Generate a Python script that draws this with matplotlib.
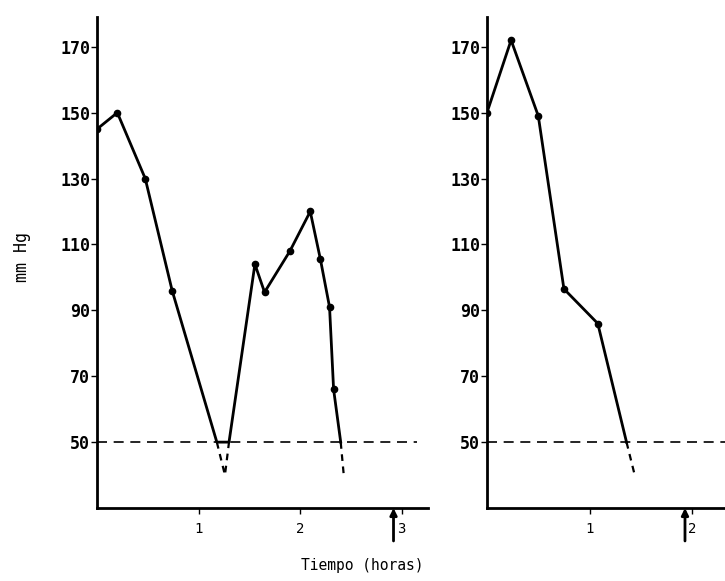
#!/usr/bin/env python3
"""Presion arterial (mm Hg) frente al tiempo (horas), dos casos lado a lado."""
import matplotlib
matplotlib.use("Agg")
import matplotlib.pyplot as plt  # noqa: E402

# caso 1 (panel izquierdo)
left_t = [0.0, 0.2, 0.475, 0.74, 1.18, 1.30, 1.555, 1.65, 1.9, 2.1, 2.2, 2.29, 2.33, 2.40]
left_p = [145, 150, 130, 96, 50, 50, 104, 95.5, 108, 120, 105.5, 91, 66, 50]
left_marked = [0, 1, 2, 3, 6, 7, 8, 9, 10, 11, 12]
left_dash_t = [[1.18, 1.26, 1.30], [2.40, 2.43]]
left_dash_p = [[50, 40, 50], [50, 40]]
left_arrow_t = 2.92
left_xticks = [1, 2, 3]

# caso 2 (panel derecho)
right_t = [0.0, 0.235, 0.5, 0.75, 1.08, 1.36]
right_p = [150, 172, 149, 96.5, 86, 50]
right_marked = [0, 1, 2, 3, 4]
right_dash_t = [[1.36, 1.44]]
right_dash_p = [[50, 40]]
right_arrow_t = 1.93
right_xticks = [1, 2]

yticks = [50, 70, 90, 110, 130, 150, 170]
threshold = 50
ylim = (30, 179)

MONO = "DejaVu Sans Mono"


def panel(ax, t, p, marked, dash_t, dash_p, arrow_t, xticks, xmax, thr_end):
    ax.plot(t, p, color="black", lw=2.0, solid_joinstyle="round")
    ax.plot([t[i] for i in marked], [p[i] for i in marked], "o", color="black", ms=4.5)
    for dt, dp in zip(dash_t, dash_p):
        ax.plot(dt, dp, color="black", lw=1.6, ls=(0, (3, 2.5)))
    ax.plot([0, thr_end], [threshold, threshold], color="black", lw=1.2, ls=(0, (6, 4)))
    ax.set_xlim(0, xmax)
    ax.set_ylim(*ylim)
    ax.set_yticks(yticks)
    ax.set_xticks(xticks)
    for s in ("top", "right"):
        ax.spines[s].set_visible(False)
    for s in ("left", "bottom"):
        ax.spines[s].set_linewidth(2.0)
    ax.tick_params(axis="y", direction="out", length=4, width=1, labelsize=12, pad=1)
    ax.tick_params(axis="x", direction="out", length=4, width=1, labelsize=10, pad=6)
    for lab in ax.get_yticklabels():
        lab.set_family(MONO)
        lab.set_fontweight("bold")
    for lab in ax.get_xticklabels():
        lab.set_family(MONO)
    ax.annotate("", xy=(arrow_t, ylim[0]), xytext=(arrow_t, ylim[0] - 10),
                annotation_clip=False,
                arrowprops=dict(arrowstyle="-|>", color="black", lw=2.0,
                                mutation_scale=10, shrinkA=0, shrinkB=0))


fig = plt.figure(figsize=(7.25, 5.81), dpi=100)
ax1 = fig.add_axes([0.1338, 0.1256, 0.4566, 0.845])
ax2 = fig.add_axes([0.6717, 0.1256, 0.3283, 0.845])

panel(ax1, left_t, left_p, left_marked, left_dash_t, left_dash_p,
      left_arrow_t, left_xticks, 3.26, 3.15)
panel(ax2, right_t, right_p, right_marked, right_dash_t, right_dash_p,
      right_arrow_t, right_xticks, 2.32, 2.32)

fig.text(0.030, 0.558, "mm Hg", rotation=90, ha="center", va="center",
         family=MONO, fontsize=12)
fig.text(0.499, 0.026, "Tiempo (horas)", ha="center", va="center",
         family=MONO, fontsize=10.5)

fig.savefig("out.png", dpi=100)
